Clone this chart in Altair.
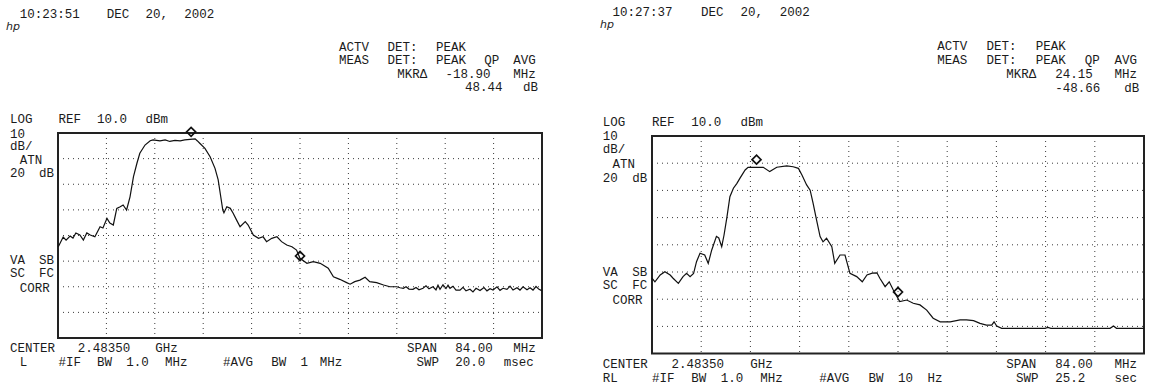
import re
import altair as alt
import pandas as pd

W, H = 1157, 391

# ---------------- sweep data: offset from centre frequency [MHz], level [dBm]
freq_a = [-41.95, -41.1, -40.6, -39.9, -39.4, -38.9, -38.2, -37.6, -37.0, -36.4,
          -35.6, -34.7, -34.2, -33.5, -33.0, -32.4, -31.8, -31.2, -30.7, -30.1,
          -29.5, -28.9, -28.3, -27.8, -26.9, -26.0, -25.5, -24.3, -23.4, -22.6,
          -21.7, -20.8, -20.0, -19.1, -18.2, -17.8, -17.4, -16.5, -15.6, -14.75,
          -14.2, -13.8, -13.4, -13.2, -12.7, -12.1, -11.6, -11.0, -10.4, -9.5,
          -9.0, -8.1, -7.2, -6.4, -5.8, -4.9, -4.0, -3.2, -2.3, -1.4,
          -0.6, 0.0, 1.2, 2.3, 3.5, 4.0, 4.9, 5.8, 6.9, 8.1,
          8.7, 9.5, 10.4, 11.3, 12.1, 13.3, 14.5, 15.6, 16.8,
          17.36, 17.93, 18.40, 18.92, 19.61, 20.13, 20.65, 21.35, 21.87, 22.39,
          23.08, 23.60, 23.95, 24.30, 24.82, 25.34, 25.69, 26.03, 26.55, 27.07,
          27.77, 28.29, 28.81, 29.50, 30.02, 30.55, 31.24, 31.93, 32.45, 32.98,
          33.50, 34.19, 34.71, 35.23, 35.92, 36.45, 36.97, 37.66, 38.18, 38.70,
          39.40, 39.92, 40.44, 40.96, 41.48, 41.95]
level_a = [-34.4, -30.6, -31.8, -30.2, -31.0, -29.0, -29.8, -31.8, -29.0, -29.8,
           -30.5, -26.6, -27.1, -23.3, -25.1, -25.9, -19.4, -18.8, -18.1, -20.05,
           -14.9, -7.05, -1.8, 2.1, 5.3, 7.0, 7.3, 6.9, 7.3, 6.7,
           7.1, 6.9, 7.3, 7.5, 7.7, 6.9, 6.0, 4.0, 0.75, -3.8,
           -8.3, -14.2, -20.05, -21.1, -18.8, -19.4, -21.3, -24.0, -26.6, -24.6,
           -25.9, -29.8, -31.1, -30.5, -32.4, -31.1, -30.5, -32.4, -33.7, -34.4,
           -35.7, -38.9, -40.85, -40.2, -40.85, -41.5, -42.8, -46.1, -47.1, -48.4,
           -49.0, -48.0, -47.4, -46.3, -48.0, -48.4, -49.3, -50.0, -50.0,
           -50.4, -50.6, -50.0, -50.9, -51.0, -50.3, -51.2, -50.6, -49.6, -50.8,
           -50.0, -51.2, -49.4, -51.0, -49.2, -50.7, -49.4, -50.6, -49.8, -51.3,
           -51.3, -50.2, -51.6, -51.0, -52.0, -50.6, -51.5, -50.3, -51.6, -50.8,
           -51.3, -50.0, -51.4, -50.6, -51.0, -49.8, -51.3, -50.4, -51.3, -50.0,
           -51.2, -50.4, -51.3, -49.9, -51.0, -51.5]

freq_b = [-42.0, -41.5, -40.6, -39.8, -38.9, -38.4, -37.5, -36.7, -36.1, -35.5,
          -34.9, -34.4, -33.8, -33.0, -32.4, -31.8, -31.0, -30.6, -30.1, -29.7,
          -29.2, -28.7, -28.1, -27.5, -27.0, -26.1, -25.6, -24.7, -23.0, -21.9,
          -20.7, -19.0, -17.9, -17.0, -16.4, -15.6, -15.0, -14.5, -13.9, -13.3,
          -12.8, -12.2, -11.3, -10.8, -9.9, -9.05, -8.2, -7.05, -6.1, -5.3,
          -4.4, -3.6, -3.1, -2.2, -1.5, -0.8, 0.3, 1.5, 2.6, 3.75,
          4.9, 6.0, 7.2, 8.9, 10.6, 11.7, 12.9, 14.0, 15.1, 16.0,
          16.4, 16.85, 17.7, 25.1, 25.6, 26.1, 36.2, 36.8, 37.3, 42.0]
level_b = [-42.3, -43.6, -41.1, -39.9, -41.1, -42.3, -44.2, -41.7, -40.5, -41.7,
           -40.5, -36.2, -33.1, -33.75, -36.8, -31.9, -26.9, -27.5, -30.7, -26.4,
           -19.7, -12.3, -9.2, -7.4, -5.6, -2.5, -1.5, -1.5, -1.5, -3.1,
           -1.5, -1.0, -1.3, -1.9, -4.3, -8.0, -9.9, -14.7, -20.9, -27.0,
           -28.9, -27.6, -30.7, -36.8, -33.75, -33.75, -40.5, -41.7, -43.6, -41.1,
           -40.4, -40.3, -42.3, -45.4, -43.6, -46.6, -50.9, -50.3, -51.5, -52.1,
           -54.0, -57.0, -58.3, -58.3, -57.6, -57.6, -57.9, -58.9, -59.5, -59.5,
           -58.3, -59.85, -60.7, -60.7, -60.4, -60.7, -60.7, -59.85, -60.7, -60.7]

# ---------------- analyzer settings
center_ghz = 2.48350
span_mhz = 84.0
ref_dbm = 10.0
db_per_div = 10.0
x_divs, y_divs = 10, 8

# reference marker (freq, level) and the delta readout of the active marker
ref_mkr_a = (0.0, -38.0)
delta_a = (-18.90, 48.44)
ref_mkr_b = (-24.15, 1.30)
delta_b = (24.15, -48.66)

time_a = "10:23:51 DEC 20, 2002"
time_b = "10:27:37 DEC 20, 2002"
mode_a, mode_b = "L", "RL"
avg_bw_a, avg_bw_b = "1 MHz", "10 Hz"
sweep_a, sweep_b = "20.0 msec", "25.2  sec"

FONT = "Liberation Mono"
FONT_SIZE = 12.5
INK = "#1b1b1b"
COLS = 55  # characters per screen row


def screen_lines(time, delta, mode, avg_bw, sweep):
    """Rows of the annotation text, laid out on the fixed character grid."""
    rj = lambda s: s.rjust(COLS)
    left_bw = f"{mode:>2}   #IF BW 1.0 MHz   #AVG BW {avg_bw}"
    return {
        "date": " " + time,
        "actv": " " * 34 + "ACTV DET: PEAK",
        "meas": rj("MEAS DET: PEAK QP AVG"),
        "mkr": rj(f"MKR\u0394 {delta[0]:.2f} MHz"),
        "mkrdb": rj(f"{delta[1]:.2f} dB"),
        "log": f"LOG  REF {ref_dbm:.1f} dBm",
        "s1": "10",
        "s2": "dB/",
        "s3": " ATN",
        "s4": "20 dB",
        "c1": "VA SB",
        "c2": "SC FC",
        "c3": " CORR",
        "center": f"CENTER {center_ghz:.5f} GHz".ljust(COLS - 14) + f"SPAN {span_mhz:.2f} MHz",
        "bw": left_bw.ljust(COLS - 4 - len(sweep)) + f"SWP {sweep}",
    }


def text_layer(lines, rows, x0, pitch, logo_x):
    recs = []
    for key, line in lines.items():
        for m in re.finditer(r"\S+", line):
            recs.append({"px": x0 + m.start() * pitch, "py": rows[key], "t": m.group()})
    words = alt.Chart(pd.DataFrame(recs)).mark_text(
        align="left", baseline="middle", font=FONT, fontSize=FONT_SIZE, color=INK
    ).encode(
        x=alt.X("px:Q", scale=None, axis=None),
        y=alt.Y("py:Q", scale=None, axis=None),
        text="t:N",
    )
    logo = alt.Chart(pd.DataFrame({"px": [logo_x], "py": [rows["date"] + 13], "t": ["hp"]})).mark_text(
        align="left", baseline="middle", font="DejaVu Sans", fontSize=11,
        fontStyle="italic", color=INK
    ).encode(
        x=alt.X("px:Q", scale=None, axis=None),
        y=alt.Y("py:Q", scale=None, axis=None),
        text="t:N",
    )
    return words + logo


def panel(freq, level, ref_mkr, delta, box):
    left, top, right, bottom = box
    half = span_mhz / 2
    low = ref_dbm - y_divs * db_per_div
    mhz_per_px = span_mhz / (right - left)
    db_per_px = (ref_dbm - low) / (bottom - top)
    xs = alt.Scale(domain=[-half - left * mhz_per_px, half + (W - right) * mhz_per_px],
                   nice=False, zero=False)
    ys = alt.Scale(domain=[low - (H - bottom) * db_per_px, ref_dbm + top * db_per_px],
                   nice=False, zero=False)

    def X(f):
        return alt.X(f, type="quantitative", scale=xs, axis=None)

    def Y(f):
        return alt.Y(f, type="quantitative", scale=ys, axis=None)

    step = span_mhz / x_divs
    vgrid = pd.DataFrame({"f": [-half + step * k for k in range(1, x_divs)],
                          "l0": ref_dbm, "l1": low})
    hgrid = pd.DataFrame({"l": [ref_dbm - db_per_div * k for k in range(1, y_divs)],
                          "f0": -half, "f1": half})
    frame = pd.DataFrame({"f0": [-half], "f1": [half], "l0": [ref_dbm], "l1": [low]})
    trace = pd.DataFrame({"f": freq, "l": level})
    mk = pd.DataFrame({"f": [ref_mkr[0], ref_mkr[0] + delta[0]],
                       "l": [ref_mkr[1], ref_mkr[1] + delta[1]]})

    dots = dict(color="#3a3a3a", strokeWidth=1, strokeDash=[1, 4])
    g1 = alt.Chart(vgrid).mark_rule(**dots).encode(x=X("f"), y=Y("l0"), y2="l1")
    g2 = alt.Chart(hgrid).mark_rule(**dots).encode(x=X("f0"), x2="f1", y=Y("l"))
    fr = alt.Chart(frame).mark_rect(fillOpacity=0, stroke="#222222", strokeWidth=2).encode(
        x=X("f0"), x2="f1", y=Y("l0"), y2="l1")
    tr = alt.Chart(trace).mark_line(color="#111111", strokeWidth=1.2).encode(
        x=X("f"), y=Y("l"), order="f:Q")
    mp = alt.Chart(mk).mark_point(shape="diamond", filled=False, size=80,
                                  strokeWidth=1.7, color="#111111", opacity=1).encode(
        x=X("f"), y=Y("l"))
    return alt.layer(g1, g2, fr, tr, mp)


rows_a = {"date": 13.7, "actv": 47.0, "meas": 60.4, "mkr": 73.7, "mkrdb": 86.7,
          "log": 118.7, "s1": 133.7, "s2": 146.0, "s3": 159.5, "s4": 173.0,
          "c1": 260.0, "c2": 273.3, "c3": 287.5, "center": 348.2, "bw": 362.0}
rows_b = {"date": 12.0, "actv": 46.0, "meas": 60.0, "mkr": 73.7, "mkrdb": 87.5,
          "log": 122.3, "s1": 135.8, "s2": 148.8, "s3": 163.7, "s4": 177.5,
          "c1": 272.0, "c2": 285.0, "c3": 300.0, "center": 364.3, "bw": 377.8}

panel_a = panel(freq_a, level_a, ref_mkr_a, delta_a, (58, 133, 542, 338))
panel_b = panel(freq_b, level_b, ref_mkr_b, delta_b, (652, 136, 1144, 353.6))
text_a = text_layer(screen_lines(time_a, delta_a, mode_a, avg_bw_a, sweep_a), rows_a, 10.0, 9.68, 6)
text_b = text_layer(screen_lines(time_b, delta_b, mode_b, avg_bw_b, sweep_b), rows_b, 602.7, 9.84, 600)

chart = alt.layer(panel_a, panel_b, text_a, text_b).resolve_scale(
    x="independent", y="independent"
).properties(
    width=W, height=H, padding=0, autosize="none", background="white"
).configure_view(stroke=None)

chart.save("out.html", embed_options={"renderer": "svg", "actions": False})
